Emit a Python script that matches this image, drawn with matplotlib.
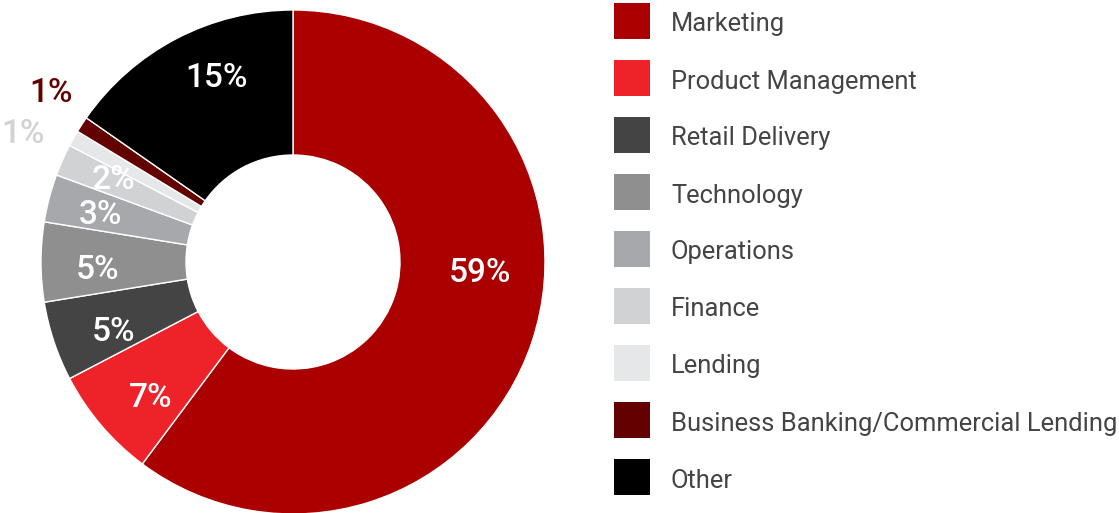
import matplotlib.pyplot as plt
from matplotlib.patches import Rectangle

# share of respondents by department
departments = ['Marketing', 'Product Management', 'Retail Delivery', 'Technology',
               'Operations', 'Finance', 'Lending',
               'Business Banking/Commercial Lending', 'Other']
shares = [59, 7, 5, 5, 3, 2, 1, 1, 15]

colors = ['#ab0000', '#ee2229', '#444444', '#8f8f8f', '#a7a8ab',
          '#d1d2d4', '#e6e7e8', '#630000', '#000000']
# label placement in pixel coords (x, y from top) and text colour
label_pos = [(480, 273), (151, 398), (113, 332), (97, 270), (100, 215),
             (113, 180), (51, 93), (23, 134), (216, 78)]
label_col = ['white'] * 6 + ['#630000', '#d1d2d4', 'white']
# Lending and Business Banking labels are outside the ring, swapped order
label_idx = [0, 1, 2, 3, 4, 5, 7, 6, 8]

W, H = 1119, 513
fig = plt.figure(figsize=(W / 100, H / 100), dpi=100)
ax = fig.add_axes([0, 0, 1, 1])

cx, cy, R, r_in = 293, H - 262, 252, 107
ax.pie(shares, colors=colors, startangle=90, counterclock=False,
       center=(cx, cy), radius=R, frame=True,
       wedgeprops=dict(width=R - r_in, edgecolor='white', linewidth=1))
ax.set_xlim(0, W)
ax.set_ylim(0, H)
ax.set_aspect('equal')
ax.axis('off')

for (x, y), c, i in zip(label_pos, label_col, label_idx):
    ax.text(x, H - y, f'{shares[i]}%', color=c, fontsize=24, fontweight='medium',
            family='Roboto', ha='center', va='center')

# legend: squares and names
for k, (name, col) in enumerate(zip(departments, colors)):
    yc = 21 + k * 57
    ax.add_patch(Rectangle((614, H - yc - 18), 36, 36, facecolor=col, edgecolor='none'))
    ax.text(671, H - yc - 1, name, color='#444444', fontsize=18.4, family='Roboto',
            ha='left', va='center_baseline')

fig.savefig('out.png', dpi=100)
